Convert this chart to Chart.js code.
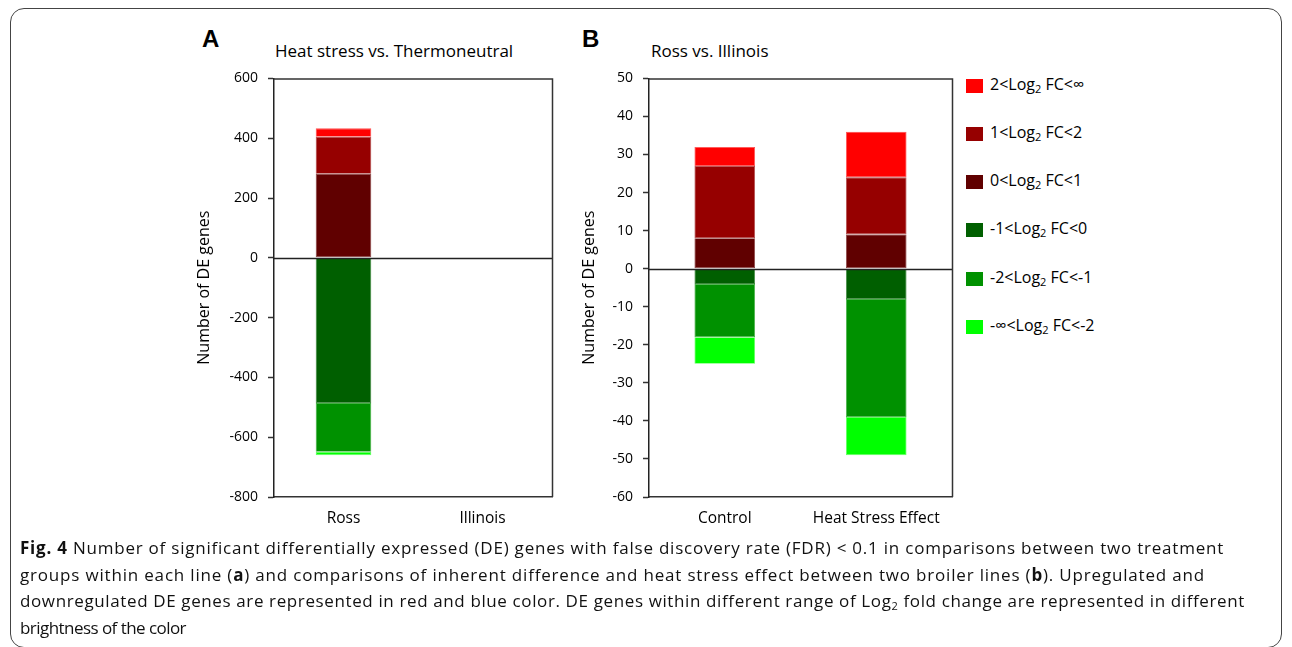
<!DOCTYPE html>
<html><head><meta charset="utf-8">
<script src="https://cdn.jsdelivr.net/npm/chart.js@4.4.0/dist/chart.umd.min.js"></script>
<style>
html,body{margin:0;padding:0;background:#fff;}
body{width:1292px;height:647px;position:relative;overflow:hidden;font-family:"Lato","Open Sans",sans-serif;color:#000;}
#frame{position:absolute;left:10px;top:8px;width:1272px;height:640px;border:1px solid #444;border-radius:14px;box-sizing:border-box;}
.wrap{position:absolute;}
.panel{position:absolute;font-family:Arial,"Liberation Sans",sans-serif;font-weight:bold;font-size:24px;}
.ptitle{position:absolute;font-family:"Open Sans",sans-serif;font-size:17px;white-space:nowrap;}
#legend{position:absolute;left:966px;top:76px;font-family:"Open Sans",sans-serif;font-size:16px;}
#legend .it{position:absolute;left:0;height:20px;white-space:nowrap;}
#legend .sw{position:absolute;left:0;top:3px;width:17px;height:14px;}
#legend .tx{position:absolute;left:24px;top:-3px;}
#legend sub{font-size:11px;vertical-align:-3px;}
#caption{position:absolute;left:20px;top:535px;font-family:"Open Sans",sans-serif;font-size:17px;line-height:26.5px;white-space:nowrap;color:#111;}
#caption .ln{display:inline-block;}
#caption sub{font-size:11px;vertical-align:-3px;line-height:0;}
</style></head>
<body>
<div id="frame"></div>
<div class="panel" style="left:202px;top:25px;">A</div>
<div class="panel" style="left:582px;top:25px;">B</div>
<div class="ptitle" style="left:275px;top:39px;">Heat stress vs. Thermoneutral</div>
<div class="ptitle" style="left:651px;top:39px;">Ross vs. Illinois</div>
<div class="wrap" style="left:180px;top:60px;width:380px;height:480px;"><canvas id="cA" width="380" height="480"></canvas></div>
<div class="wrap" style="left:560px;top:60px;width:400px;height:480px;"><canvas id="cB" width="400" height="480"></canvas></div>
<div id="legend"></div>
<div id="caption">
<span class="ln" data-w="1204"><b>Fig. 4</b> Number of significant differentially expressed (DE) genes with false discovery rate (FDR) &lt; 0.1 in comparisons between two treatment</span><br>
<span class="ln" data-w="1185">groups within each line (<b>a</b>) and comparisons of inherent difference and heat stress effect between two broiler lines (<b>b</b>). Upregulated and</span><br>
<span class="ln" data-w="1225">downregulated DE genes are represented in red and blue color. DE genes within different range of Log<sub>2</sub> fold change are represented in different</span><br>
<span class="ln" data-w="166">brightness of the color</span>
</div>
<script>
// ---- data ----
const catsA = ['Ross', 'Illinois'];
const catsB = ['Control', 'Heat Stress Effect'];
const yTicksA = [600, 400, 200, 0, -200, -400, -600, -800];
const yTicksB = [50, 40, 30, 20, 10, 0, -10, -20, -30, -40, -50, -60];
const seriesLabels = ['2<Log2 FC<∞', '1<Log2 FC<2', '0<Log2 FC<1', '-1<Log2 FC<0', '-2<Log2 FC<-1', '-∞<Log2 FC<-2'];
// panel A values (Ross, Illinois)
const aUp2Inf = [28, 0];
const aUp12 = [124, 0];
const aUp01 = [281, 2];
const aDn10 = [-486, 0];
const aDn21 = [-163, 0];
const aDnInf = [-11, 0];
// panel B values (Control, Heat Stress Effect)
const bUp2Inf = [5, 12];
const bUp12 = [19, 15];
const bUp01 = [8, 9];
const bDn10 = [-4, -8];
const bDn21 = [-14, -31];
const bDnInf = [-7, -10];

const colors = ['#ff0000', '#960000', '#600000', '#005f00', '#009100', '#00ff00'];
const borders = ['#ff5050', '#b04a4a', '#8a4040', '#3f8a3f', '#45b045', '#60ff60'];

function makeDatasets(vals) {
  const order = [2, 1, 0, 3, 4, 5];
  return order.map(i => ({
    label: seriesLabels[i],
    data: vals[i],
    backgroundColor: colors[i],
    borderColor: borders[i],
    borderWidth: 0.8,
    borderSkipped: false,
    barPercentage: 0.8,
    categoryPercentage: 0.5
  }));
}

const framePlugin = {
  id: 'frameZero',
  afterDatasetsDraw(chart) {
    const {ctx, chartArea: a, scales} = chart;
    ctx.save();
    ctx.strokeStyle = '#222';
    ctx.lineWidth = 1.6;
    const y0 = Math.round(scales.y.getPixelForValue(0)) + 0.5;
    ctx.beginPath(); ctx.moveTo(a.left, y0); ctx.lineTo(a.right, y0); ctx.stroke();
    ctx.lineWidth = 1.5;
    ctx.strokeStyle = '#333';
    ctx.beginPath();
    ctx.moveTo(a.left, a.top + 0.5); ctx.lineTo(a.right + 0.5, a.top + 0.5); ctx.lineTo(a.right + 0.5, a.bottom);
    ctx.stroke();
    ctx.restore();
  }
};

function makeChart(id, cats, vals, ticks, yw, titlePad) {
  const mn = ticks[ticks.length - 1], mx = ticks[0], step = ticks[0] - ticks[1];
  return new Chart(document.getElementById(id), {
    type: 'bar',
    data: { labels: cats, datasets: makeDatasets(vals) },
    options: {
      responsive: false, animation: false,
      layout: { padding: { left: 0, top: 16, right: 8, bottom: 0 } },
      plugins: { legend: { display: false }, tooltip: { enabled: false } },
      scales: {
        x: {
          stacked: true,
          grid: { display: false, drawTicks: false },
          border: { display: true, color: '#333', width: 1.5 },
          ticks: { padding: 12, color: '#000', font: { family: 'Open Sans', size: 15.5 } },
          afterFit: s => { s.height = 43; }
        },
        y: {
          stacked: true, min: mn, max: mx,
          afterBuildTicks: s => { s.ticks = ticks.map(v => ({ value: v })); },
          grid: { drawOnChartArea: false, drawTicks: true, tickLength: 6, tickColor: '#333', tickWidth: 1.5 },
          border: { display: true, color: '#222', width: 1.5 },
          ticks: { padding: 10, color: '#000', font: { family: 'Open Sans', size: 14 }, stepSize: step },
          title: { display: true, text: 'Number of DE genes', color: '#000', font: { family: 'Open Sans', size: 16 }, padding: { top: titlePad, bottom: 0 } },
          afterFit: s => { s.width = yw; }
        }
      }
    },
    plugins: [framePlugin]
  });
}

makeChart('cA', catsA, [aUp2Inf, aUp12, aUp01, aDn10, aDn21, aDnInf], yTicksA, 94, 15);
makeChart('cB', catsB, [bUp2Inf, bUp12, bUp01, bDn10, bDn21, bDnInf], yTicksB, 89, 20);

// legend built from the series labels
const lg = document.getElementById('legend');
const ys = [0, 48, 96, 144, 193, 241];
seriesLabels.forEach((lab, i) => {
  const it = document.createElement('div');
  it.className = 'it'; it.style.top = ys[i] + 'px';
  const sw = document.createElement('div'); sw.className = 'sw'; sw.style.background = colors[i];
  const tx = document.createElement('div'); tx.className = 'tx';
  tx.innerHTML = lab.replace(/</g, '&lt;').replace('Log2', 'Log<sub>2</sub>');
  it.appendChild(sw); it.appendChild(tx); lg.appendChild(it);
});

// fit caption lines to the reference line widths
document.querySelectorAll('#caption .ln').forEach(el => {
  const target = +el.dataset.w;
  const w = el.getBoundingClientRect().width;
  const n = el.textContent.length;
  el.style.letterSpacing = ((target - w) / n) + 'px';
});
</script>
</body></html>
